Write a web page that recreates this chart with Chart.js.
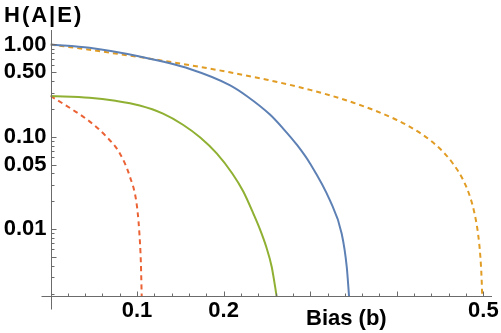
<!DOCTYPE html>
<html>
<head>
<meta charset="utf-8">
<script src="https://cdn.jsdelivr.net/npm/chart.js@4.4.1/dist/chart.umd.min.js"></script>
<style>
  html, body { margin: 0; padding: 0; background: #fff; }
</style>
</head>
<body>
<canvas id="chart" width="501" height="333"></canvas>
<script>
// values (bias b, H(A|E))
const blueB = [0, 0.045, 0.103, 0.161, 0.207, 0.227, 0.2535, 0.269, 0.285, 0.300, 0.3228, 0.3364, 0.3422, 0.345];
const blueH = [1.0, 0.92, 0.74, 0.543, 0.363, 0.275, 0.174, 0.122, 0.081, 0.051, 0.0204, 0.0089, 0.0039, 0.0018];

const orangeB = [0, 0.045, 0.103, 0.161, 0.207, 0.25, 0.30, 0.35, 0.40, 0.43, 0.45, 0.465, 0.477, 0.485, 0.49, 0.494, 0.4965, 0.498, 0.499];
const orangeH = [1.0, 0.876, 0.73, 0.597, 0.50, 0.415, 0.322, 0.234, 0.152, 0.105, 0.074, 0.051, 0.0336, 0.0218, 0.0145, 0.0087, 0.0051, 0.0029, 0.0015];

const greenB = [0, 0.045, 0.075, 0.103, 0.13, 0.153, 0.173, 0.192, 0.21, 0.2227, 0.235, 0.242, 0.249, 0.2555, 0.2615];
const greenH = [0.277, 0.265, 0.245, 0.218, 0.178, 0.135, 0.098, 0.066, 0.040, 0.0255, 0.0142, 0.0099, 0.0065, 0.0039, 0.0018];

const redB = [0, 0.0261, 0.0454, 0.0647, 0.0801, 0.0917, 0.0994, 0.1024, 0.1044, 0.1054];
const redH = [0.277, 0.195, 0.146, 0.10, 0.066, 0.037, 0.019, 0.0098, 0.0043, 0.0018];

const xTickLabels = [0.1, 0.2, 0.5];
const yTickLabels = [1, 0.5, 0.1, 0.05, 0.01];

const pts = (xs, ys) => xs.map((x, i) => ({ x: x, y: ys[i] }));

const labelFont = { family: 'Liberation Sans', size: 22, weight: 'bold' };

// Mathematica style axes: inward ticks, axes crossing past the origin
const axesPlugin = {
  id: 'axesPlugin',
  afterDraw(chart) {
    const ctx = chart.ctx;
    const xs = chart.scales.x, ys = chart.scales.y;
    const x0 = Math.round(xs.getPixelForValue(0)) + 0.5;
    const yb = Math.round(ys.bottom) + 0.5;
    ctx.save();
    ctx.strokeStyle = '#6b6b6b';
    ctx.lineWidth = 1;
    ctx.beginPath();
    ctx.moveTo(x0 - 10, yb); ctx.lineTo(xs.right, yb);
    ctx.moveTo(x0, ys.top); ctx.lineTo(x0, yb + 13);
    // x ticks
    for (let k = 1; k <= 25; k++) {
      const v = k * 0.02;
      const px = Math.round(xs.getPixelForValue(v)) + 0.5;
      const len = (k % 5 === 0) ? 5 : 3;
      ctx.moveTo(px, yb); ctx.lineTo(px, yb - len);
    }
    // y ticks (log minor ticks)
    for (let e = -3; e <= 0; e++) {
      for (let m = 1; m <= 9; m++) {
        const v = m * Math.pow(10, e);
        if (v < ys.min || v > ys.max) continue;
        const py = Math.round(ys.getPixelForValue(v)) + 0.5;
        const len = (m === 1 || m === 5) ? 5 : 3;
        ctx.moveTo(x0, py); ctx.lineTo(x0 + len, py);
      }
    }
    ctx.stroke();

    ctx.fillStyle = '#000';
    ctx.font = 'bold 22px "Liberation Sans"';
    ctx.textAlign = 'left';
    ctx.textBaseline = 'alphabetic';
    ctx.letterSpacing = '2px';
    ctx.fillText('H(A|E)', 4, 22);
    ctx.letterSpacing = '0px';
    ctx.fillText('Bias (b)', 306, 325);
    ctx.restore();
  }
};

new Chart(document.getElementById('chart'), {
  type: 'line',
  data: {
    datasets: [
      { data: pts(blueB, blueH), borderColor: '#5e81b5', borderWidth: 2 },
      { data: pts(orangeB, orangeH), borderColor: '#e19c24', borderWidth: 2, borderDash: [5, 4] },
      { data: pts(greenB, greenH), borderColor: '#8fb032', borderWidth: 2 },
      { data: pts(redB, redH), borderColor: '#eb6235', borderWidth: 2, borderDash: [5, 4] }
    ]
  },
  options: {
    responsive: false,
    animation: false,
    devicePixelRatio: 1,
    layout: { padding: { left: 0, right: 9, top: 30, bottom: 0 } },
    elements: {
      point: { radius: 0 },
      line: { cubicInterpolationMode: 'monotone', fill: false }
    },
    plugins: { legend: { display: false }, tooltip: { enabled: false } },
    scales: {
      x: {
        type: 'linear',
        min: 0,
        max: 0.51,
        grid: { display: false, drawTicks: false },
        border: { display: false },
        ticks: { color: '#000', font: labelFont, padding: 2, maxRotation: 0, autoSkip: false,
                 callback: v => String(v) },
        afterBuildTicks: s => { s.ticks = xTickLabels.map(v => ({ value: v })); },
        afterFit: s => { s.height = 37; s.paddingLeft = 0; s.paddingRight = 0; }
      },
      y: {
        type: 'logarithmic',
        min: 0.00188,
        max: 1.436,
        grid: { display: false, drawTicks: false },
        border: { display: false },
        ticks: { color: '#000', font: labelFont, padding: 4, autoSkip: false,
                 callback: v => Number(v).toFixed(2) },
        afterBuildTicks: s => { s.ticks = yTickLabels.map(v => ({ value: v })); },
        afterFit: s => { s.width = 50.5; s.paddingTop = 0; s.paddingBottom = 0; }
      }
    }
  },
  plugins: [axesPlugin]
});
</script>
</body>
</html>
